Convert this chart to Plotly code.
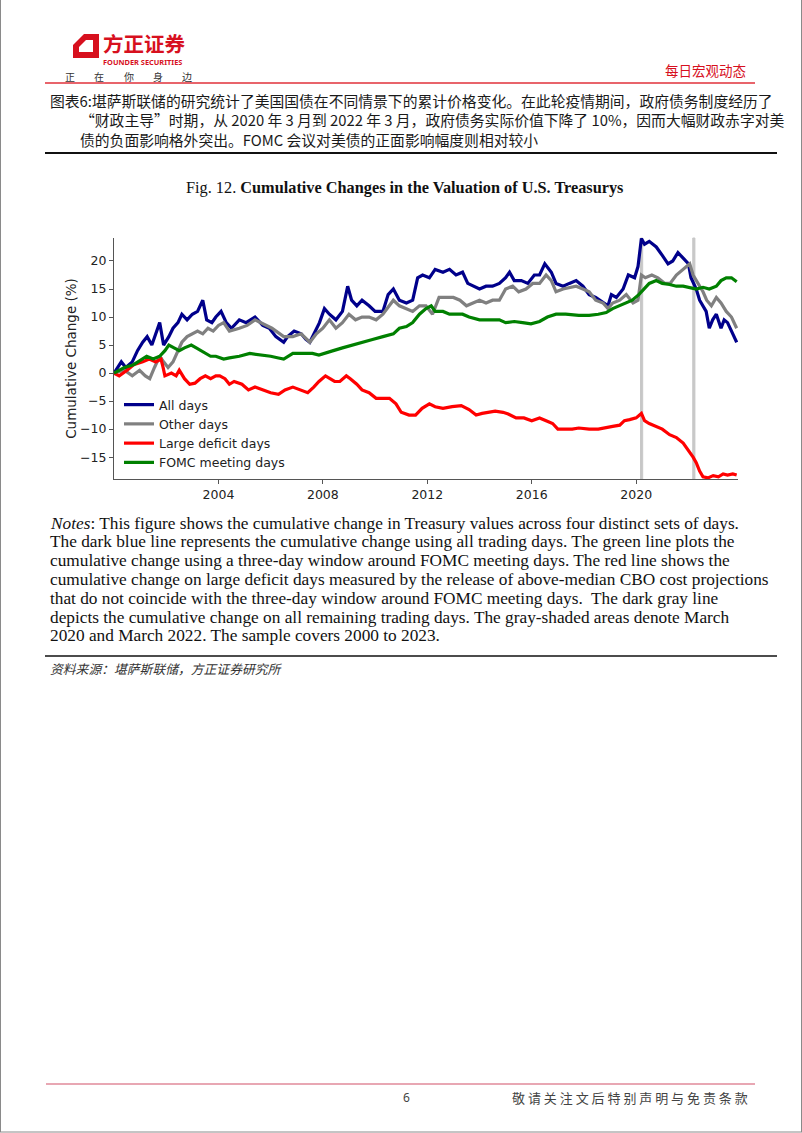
import plotly.graph_objects as go

W, H = 802, 1133


def px(x):
    return x / W


def py(y):
    return 1 - y / H


# ---------------- data ----------------
all_days_t = [2000.0, 2000.15, 2000.28, 2000.45, 2000.7, 2000.9, 2001.1, 2001.27, 2001.45, 2001.6,
              2001.75, 2001.9, 2002.1, 2002.26, 2002.45, 2002.6, 2002.8, 2003.0, 2003.2, 2003.4,
              2003.55, 2003.75, 2003.9, 2004.1, 2004.3, 2004.5, 2004.8, 2005.06, 2005.4, 2005.7,
              2005.95, 2006.2, 2006.5, 2006.65, 2006.9, 2007.17, 2007.35, 2007.5, 2007.7, 2007.87,
              2008.06, 2008.25, 2008.5, 2008.75, 2008.95, 2009.1, 2009.3, 2009.5, 2009.77, 2010.0,
              2010.3, 2010.5, 2010.7, 2010.93, 2011.2, 2011.44, 2011.63, 2011.82, 2012.08, 2012.3,
              2012.6, 2012.85, 2013.1, 2013.35, 2013.55, 2013.75, 2014.0, 2014.25, 2014.5, 2014.76,
              2015.0, 2015.15, 2015.33, 2015.6, 2015.85, 2016.1, 2016.3, 2016.5, 2016.75, 2016.93,
              2017.2, 2017.44, 2017.7, 2017.96, 2018.2, 2018.45, 2018.73, 2018.92, 2019.05, 2019.24,
              2019.5, 2019.7, 2019.94, 2020.07, 2020.2, 2020.32, 2020.5, 2020.77, 2021.0, 2021.22,
              2021.4, 2021.6, 2021.8, 2022.0, 2022.1, 2022.3, 2022.43, 2022.56, 2022.68, 2022.8,
              2022.93, 2023.07, 2023.25, 2023.37, 2023.5, 2023.7, 2023.85]
all_days_v = [0.0, 1.0, 2.0, 1.0, 2.0, 4.0, 5.5, 6.5, 5.0, 7.0,
              9.0, 5.0, 6.5, 8.0, 9.0, 10.5, 9.5, 10.5, 11.0, 13.0,
              9.5, 9.0, 10.0, 11.0, 9.0, 8.0, 9.5, 9.0, 10.0, 8.5,
              8.0, 6.5, 5.5, 6.5, 7.5, 7.0, 6.0, 5.5, 7.5, 9.0,
              11.5, 10.5, 9.5, 11.0, 15.5, 13.0, 12.0, 13.0, 12.0, 11.0,
              11.0, 14.0, 15.0, 13.0, 12.5, 13.0, 17.0, 17.5, 17.0, 18.5,
              18.0, 18.5, 17.5, 18.0, 16.0, 15.5, 15.0, 15.5, 15.5, 16.0,
              17.0, 18.0, 16.5, 16.5, 16.0, 17.5, 17.5, 19.5, 18.0, 16.0,
              15.5, 16.0, 16.5, 15.5, 14.0, 13.5, 12.5, 12.0, 14.0, 13.5,
              15.0, 17.5, 17.0, 19.0, 24.0, 23.0, 23.5, 22.5, 21.0, 19.5,
              20.0, 21.5, 20.5, 19.5, 17.0, 15.0, 13.0, 12.0, 11.0, 8.0,
              9.5, 10.5, 8.0, 9.5, 9.0, 7.0, 5.5]

other_days_t = [2000.0, 2000.4, 2000.7, 2000.98, 2001.2, 2001.37, 2001.55, 2001.75, 2001.9, 2002.07,
                2002.26, 2002.45, 2002.6, 2002.8, 2003.0, 2003.2, 2003.4, 2003.6, 2003.8, 2004.0,
                2004.2, 2004.42, 2004.8, 2005.1, 2005.4, 2005.8, 2006.05, 2006.5, 2006.85, 2007.17,
                2007.5, 2007.75, 2008.0, 2008.25, 2008.5, 2008.75, 2009.0, 2009.25, 2009.5, 2009.77,
                2010.04, 2010.3, 2010.7, 2010.93, 2011.2, 2011.44, 2011.7, 2011.95, 2012.2, 2012.45,
                2012.7, 2013.0, 2013.25, 2013.5, 2013.75, 2014.0, 2014.25, 2014.5, 2014.76, 2015.0,
                2015.27, 2015.5, 2015.78, 2016.04, 2016.3, 2016.55, 2016.75, 2016.93, 2017.2, 2017.45,
                2017.7, 2017.96, 2018.2, 2018.45, 2018.73, 2018.92, 2019.1, 2019.37, 2019.62, 2019.88,
                2020.07, 2020.2, 2020.35, 2020.6, 2020.83, 2021.1, 2021.3, 2021.54, 2021.8, 2022.05,
                2022.18, 2022.37, 2022.56, 2022.7, 2022.88, 2023.07, 2023.25, 2023.45, 2023.65, 2023.85]
other_days_v = [0.0, 0.5, -0.5, 0.5, -0.5, -1.0, 1.0, 3.0, 2.0, 1.0,
                2.0, 4.0, 5.5, 6.5, 7.0, 7.5, 7.0, 8.0, 7.5, 8.5,
                9.0, 7.5, 8.0, 8.5, 9.5, 8.5, 8.0, 6.5, 6.5, 7.0,
                5.5, 7.0, 8.0, 9.5, 8.0, 9.0, 10.5, 9.5, 10.0, 10.0,
                9.5, 10.5, 13.0, 12.0, 11.5, 11.0, 12.0, 12.0, 10.5, 13.5,
                13.5, 13.5, 13.0, 12.0, 12.5, 13.0, 12.5, 13.0, 13.0, 15.0,
                15.5, 14.5, 15.0, 16.0, 16.0, 17.5, 16.5, 14.5, 15.0, 15.2,
                15.5, 15.0, 14.5, 13.0, 12.5, 11.5, 12.5, 13.0, 14.0, 12.5,
                13.0, 17.5, 17.0, 17.5, 17.0, 16.0, 16.0, 17.5, 18.5, 19.5,
                17.5, 16.0, 14.5, 13.0, 12.0, 13.5, 12.5, 11.0, 10.0, 8.0]

deficit_days_t = [2000.0, 2000.2, 2000.5, 2000.75, 2001.1, 2001.35, 2001.6, 2001.8, 2001.88, 2001.95,
                  2002.2, 2002.38, 2002.5, 2002.7, 2002.9, 2003.1, 2003.3, 2003.5, 2003.7, 2003.9,
                  2004.05, 2004.25, 2004.42, 2004.6, 2004.9, 2005.15, 2005.4, 2005.7, 2006.0, 2006.3,
                  2006.55, 2006.85, 2007.1, 2007.42, 2007.65, 2007.85, 2008.1, 2008.25, 2008.45, 2008.65,
                  2008.9, 2009.05, 2009.3, 2009.5, 2009.77, 2010.04, 2010.3, 2010.55, 2010.8, 2011.0,
                  2011.3, 2011.55, 2011.8, 2012.08, 2012.3, 2012.6, 2012.95, 2013.3, 2013.6, 2013.87,
                  2014.1, 2014.38, 2014.6, 2014.9, 2015.1, 2015.4, 2015.7, 2016.0, 2016.3, 2016.55,
                  2016.8, 2017.0, 2017.3, 2017.55, 2017.8, 2018.2, 2018.55, 2018.85, 2019.1, 2019.37,
                  2019.55, 2019.75, 2020.0, 2020.2, 2020.32, 2020.5, 2020.77, 2021.0, 2021.28, 2021.54,
                  2021.8, 2022.05, 2022.18, 2022.3, 2022.43, 2022.56, 2022.75, 2022.95, 2023.15, 2023.33,
                  2023.5, 2023.7, 2023.85]
deficit_days_v = [0.0, -0.5, 0.5, 1.5, 2.0, 2.5, 2.0, 2.5, 1.0, -0.5,
                  0.0, -0.5, 0.5, -1.0, -2.0, -1.8, -1.0, -0.5, -1.0, -0.5,
                  -0.5, -1.0, -2.0, -1.5, -2.0, -3.0, -2.5, -3.0, -3.5, -3.8,
                  -3.0, -2.5, -3.0, -3.5, -2.5, -1.5, -0.5, -1.0, -1.5, -1.5,
                  -0.5, -1.0, -2.0, -3.0, -3.5, -4.5, -4.5, -4.5, -5.5, -7.0,
                  -7.5, -7.5, -6.3, -5.5, -6.0, -6.3, -6.0, -5.8, -6.5, -7.5,
                  -7.2, -7.0, -6.8, -7.0, -7.3, -8.0, -8.0, -8.5, -8.0, -8.5,
                  -9.0, -10.0, -10.0, -10.0, -9.8, -10.0, -10.0, -9.8, -9.5, -9.3,
                  -8.5, -8.3, -8.0, -7.2, -8.5, -9.0, -9.5, -10.0, -11.0, -11.5,
                  -12.5, -14.0, -15.0, -16.0, -17.5, -18.5, -18.7, -18.3, -18.5, -18.0,
                  -18.2, -18.0, -18.2]

fomc_days_t = [2000.0, 2000.4, 2000.75, 2001.05, 2001.25, 2001.5, 2001.75, 2001.95, 2002.1, 2002.3,
               2002.5, 2002.7, 2002.96, 2003.15, 2003.35, 2003.55, 2003.7, 2003.9, 2004.2, 2004.42,
               2004.8, 2005.2, 2005.6, 2006.0, 2006.3, 2006.5, 2006.85, 2007.2, 2007.6, 2007.85,
               2008.1, 2008.4, 2008.75, 2009.1, 2009.5, 2009.9, 2010.3, 2010.7, 2010.93, 2011.2,
               2011.44, 2011.7, 2011.95, 2012.15, 2012.3, 2012.6, 2012.85, 2013.1, 2013.35, 2013.6,
               2014.0, 2014.4, 2014.76, 2015.0, 2015.33, 2015.65, 2015.97, 2016.3, 2016.6, 2016.93,
               2017.3, 2017.8, 2018.2, 2018.55, 2018.85, 2019.1, 2019.37, 2019.62, 2019.85, 2020.1,
               2020.32, 2020.5, 2020.77, 2021.0, 2021.28, 2021.54, 2021.8, 2022.05, 2022.3, 2022.56,
               2022.8, 2023.07, 2023.25, 2023.45, 2023.65, 2023.85]
fomc_days_v = [0.0, 1.0, 1.5, 2.5, 3.0, 2.5, 3.0, 4.0, 5.0, 4.5,
               4.0, 4.5, 5.0, 4.5, 4.0, 3.5, 3.0, 3.0, 2.5, 2.7,
               3.0, 3.5, 3.3, 3.0, 2.7, 2.5, 3.5, 3.5, 3.5, 3.2,
               3.5, 4.0, 4.5, 5.0, 5.5, 6.0, 6.5, 7.0, 8.0, 8.3,
               9.0, 10.5, 11.5, 12.0, 11.0, 11.0, 10.5, 10.5, 10.5, 10.0,
               9.5, 9.5, 9.5, 9.0, 9.2, 9.0, 8.8, 9.2, 10.0, 10.5,
               10.5, 10.3, 10.3, 10.5, 10.8, 11.5, 12.0, 12.5, 13.0, 14.0,
               15.0, 16.0, 16.5, 16.0, 15.8, 15.5, 15.5, 15.3, 15.0, 15.3,
               15.0, 15.5, 16.5, 17.0, 17.0, 16.3]

series_names = ["All days", "Other days", "Large deficit days", "FOMC meeting days"]
series_colors = ["#00008B", "#808080", "#FF0000", "#008000"]

shaded_months = [(2020 + 2 / 12, 2020 + 3 / 12), (2022 + 2 / 12, 2022 + 3 / 12)]
x_ticks = [2004, 2008, 2012, 2016, 2020]
y_ticks = [-15, -10, -5, 0, 5, 10, 15, 20]

caption_lines = [
    "图表6:堪萨斯联储的研究统计了美国国债在不同情景下的累计价格变化。在此轮疫情期间，政府债务制度经历了",
    "“财政主导”时期，从 2020 年 3 月到 2022 年 3 月，政府债务实际价值下降了 10%，因而大幅财政赤字对美",
    "债的负面影响格外突出。FOMC 会议对美债的正面影响幅度则相对较小",
]
notes_lines = [
    "<i>Notes</i>: This figure shows the cumulative change in Treasury values across four distinct sets of days.",
    "The dark blue line represents the cumulative change using all trading days. The green line plots the",
    "cumulative change using a three-day window around FOMC meeting days. The red line shows the",
    "cumulative change on large deficit days measured by the release of above-median CBO cost projections",
    "that do not coincide with the three-day window around FOMC meeting days.  The dark gray line",
    "depicts the cumulative change on all remaining trading days. The gray-shaded areas denote March",
    "2020 and March 2022. The sample covers 2000 to 2023.",
]
slogan_chars = ["正", "在", "你", "身", "边"]

# ---------------- figure ----------------
fig = go.Figure()
series = [(all_days_t, all_days_v), (other_days_t, other_days_v),
          (deficit_days_t, deficit_days_v), (fomc_days_t, fomc_days_v)]
for (t, v), name, color in zip(series, series_names, series_colors):
    fig.add_trace(go.Scatter(x=t, y=v, mode="lines", name=name,
                             line=dict(color=color, width=3.2)))

for x0, x1 in shaded_months:
    fig.add_vrect(x0=x0, x1=x1, fillcolor="#c8c8c8", line=dict(color="#c8c8c8", width=1),
                  opacity=1, layer="below")

axis_font = dict(family="DejaVu Sans", size=12.5, color="#222222")
fig.update_layout(
    width=W, height=H, autosize=False,
    margin=dict(l=0, r=0, t=0, b=0),
    paper_bgcolor="white", plot_bgcolor="white",
    showlegend=True,
    legend=dict(x=px(119), y=py(390), xanchor="left", yanchor="top",
                bgcolor="rgba(0,0,0,0)", font=axis_font, tracegroupgap=0,
                itemwidth=30),
    xaxis=dict(domain=[px(114), px(738)], range=[2000.0, 2023.9],
               tickmode="array", tickvals=x_ticks, ticks="outside", ticklen=4,
               tickcolor="#555555", showline=True, linecolor="#555555", linewidth=1,
               showgrid=False, zeroline=False, tickfont=axis_font),
    yaxis=dict(domain=[py(479), py(238)], range=[-18.9, 24.1],
               tickmode="array", tickvals=y_ticks, ticks="outside", ticklen=4,
               tickcolor="#555555", showline=True, linecolor="#555555", linewidth=1,
               showgrid=False, zeroline=False, tickfont=axis_font,
               title=dict(text="Cumulative Change (%)", standoff=0,
                          font=dict(family="DejaVu Sans", size=13.5, color="#222222"))),
)

ann = []


def text(x, y, s, size, color="#1a1a1a", family="Noto Sans CJK SC", anchor="left", pad=1):
    ann.append(dict(x=px(x), y=py(y), xref="paper", yref="paper", text=s, showarrow=False,
                    xanchor=anchor, yanchor="middle", borderpad=pad,
                    font=dict(family=family, size=size, color=color)))


# header
text(102, 43, "<b>方正证券</b>", 20.5, color="#d7101e", pad=0)
text(102, 62, "<b>FOUNDER SECURITIES</b>", 7.4, color="#d7101e", family="Noto Sans", pad=0)
for i, ch in enumerate(slogan_chars):
    text(70 + i * 29.3, 77, ch, 10, color="#333333", anchor="center")
text(748, 70, "每日宏观动态", 13.5, color="#d7101e", anchor="right")

# caption
text(48, 100, caption_lines[0], 14.8)
text(78, 120, caption_lines[1], 14.8)
text(78, 140, caption_lines[2], 14.8)

# chart title
text(404, 187, "Fig. 12. <b>Cumulative Changes in the Valuation of U.S. Treasurys</b>", 16.3,
     color="#111111", family="Liberation Serif", anchor="center")

# notes
for i, line in enumerate(notes_lines):
    text(48, 523 + i * 18.8, line, 17.3, color="#111111", family="Liberation Serif")

# source
text(48, 668, "<i>资料来源：堪萨斯联储，方正证券研究所</i>", 12.8, color="#333333")

# footer
text(406, 1097, "6", 12, color="#444444", family="Noto Sans", anchor="center")
text(750, 1097, " ".join("敬请关注文后特别声明与免责条款"), 13, color="#444444", anchor="right")

fig.update_layout(annotations=ann)

shapes = list(fig.layout.shapes)


def hline(y, x0, x1, color, width):
    shapes.append(dict(type="line", xref="paper", yref="paper", x0=px(x0), x1=px(x1),
                       y0=py(y), y1=py(y), line=dict(color=color, width=width)))


hline(83, 45, 755, "#e0303a", 1.5)
hline(153, 45, 777, "#111111", 2)
hline(656, 45, 777, "#111111", 1.6)
hline(1084, 46, 755, "#e08a9a", 1.5)

# thin page border (left, right, bottom)
for seg in [((0.5, 0), (0.5, 1132)), ((801.5, 0), (801.5, 1132)), ((0, 1132), (802, 1132))]:
    (a0, b0), (a1, b1) = seg
    shapes.append(dict(type="line", xref="paper", yref="paper", x0=px(a0), x1=px(a1),
                       y0=py(b0), y1=py(b1), line=dict(color="#8a8a8a", width=1)))


def path(points):
    return "M " + " L ".join(f"{px(a)},{py(b)}" for a, b in points) + " Z"


shapes.append(dict(type="path", xref="paper", yref="paper",
                   path=path([(84, 34), (99, 34), (99, 58), (73, 58), (73, 45)]),
                   fillcolor="#d7101e", line=dict(width=0)))
shapes.append(dict(type="path", xref="paper", yref="paper",
                   path=path([(86, 40), (93, 40), (93, 52), (79, 52), (79, 47)]),
                   fillcolor="white", line=dict(width=0)))
fig.update_layout(shapes=shapes)

fig.write_html("out.html", config={"displayModeBar": False},
               post_script="document.body.style.margin='0';")
